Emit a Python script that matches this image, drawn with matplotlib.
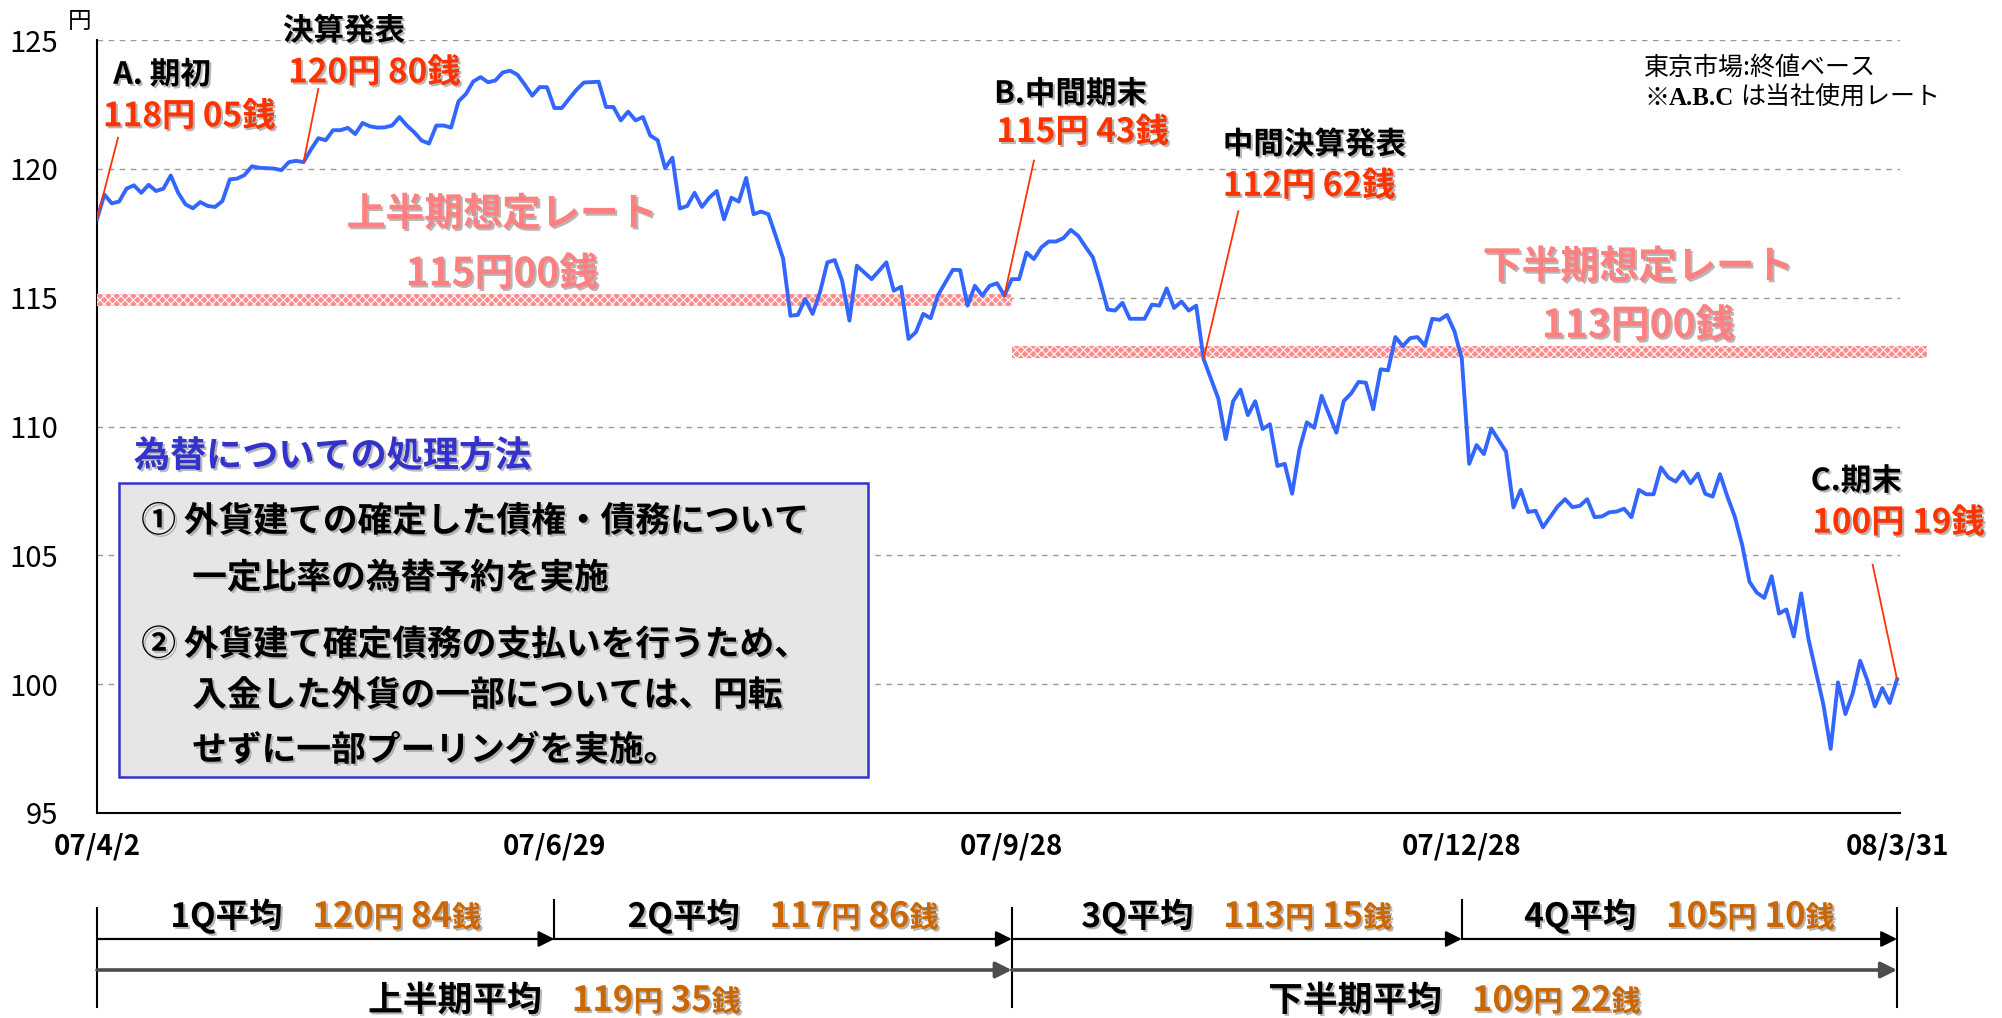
import matplotlib
matplotlib.use('Agg')
import matplotlib.pyplot as plt
import matplotlib.patheffects as pe
from matplotlib.patches import Rectangle
from matplotlib.transforms import IdentityTransform, blended_transform_factory

plt.rcParams['font.family'] = ['Noto Sans CJK JP', 'DejaVu Sans']
plt.rcParams['hatch.linewidth'] = 0.8

# trading days counted from 07/4/2, USD/JPY close (Tokyo)
days = [0, 1, 2, 3, 4, 5, 6, 7, 8, 9, 10, 11, 12, 13, 14, 15, 16, 17, 18, 19,
        20, 21, 22, 24, 25, 26, 27, 28, 29, 30, 31, 32, 33, 34, 35, 36, 37, 38, 39,
        40, 41, 42, 43, 44, 45, 46, 47, 48, 49, 50, 51, 52, 53, 54, 55, 56, 57, 58,
        59, 60, 61,
        62, 63, 64, 65, 66, 68, 69, 70, 71, 72, 73, 74, 75, 76, 77, 78, 79, 80, 81,
        82, 83, 84, 85, 86, 87, 88, 89, 90, 91, 92, 93, 94, 95, 96, 97, 98, 99, 100,
        101, 102, 103, 105, 106, 107, 108, 109, 110, 111, 112, 113, 114, 115, 116,
        117, 118, 119, 120, 121, 122, 123,
        124, 125, 126, 127, 128, 129, 130, 131, 132, 133, 134, 135, 136, 137, 138,
        139, 140, 142, 143, 144, 145, 146, 147, 148, 149, 150, 152, 153, 154, 155,
        156, 157, 158, 159, 160, 161, 162, 163, 164, 165, 166, 168, 169, 170, 171,
        172, 173, 174, 175, 176, 177, 178, 179, 180, 181, 182, 183, 184,
        185, 186, 187, 188, 189, 191, 192, 193, 194, 195, 196, 198, 199, 200, 201,
        202, 203, 204, 205, 206, 207, 208, 209, 210, 211, 212, 213, 214, 215, 216,
        217, 218, 219, 220, 221, 222, 223, 224, 225, 226, 227, 228, 229, 230, 231,
        232, 233, 234, 235, 236, 237, 238, 239, 240, 241, 242, 243, 244]
rates = [118.05, 119.00, 118.66, 118.73, 119.23, 119.36, 119.07, 119.38, 119.14, 119.23,
         119.74, 119.07, 118.62, 118.47, 118.71, 118.56, 118.52, 118.75, 119.59, 119.62,
         119.76, 120.10, 120.04, 120.01, 119.95, 120.26, 120.31, 120.26, 120.75, 121.19,
         121.11, 121.50, 121.50, 121.59, 121.35, 121.78, 121.65, 121.60, 121.61,
         121.68, 122.01, 121.68, 121.42, 121.10, 120.98, 121.68, 121.68, 121.60, 122.62,
         122.90, 123.39, 123.56, 123.36, 123.43, 123.74, 123.81, 123.65, 123.26,
         122.84, 123.17, 123.17,
         122.36, 122.36, 122.72, 123.07, 123.35, 123.38, 122.40, 122.40, 121.88, 122.22,
         121.88, 122.01, 121.29, 121.11, 120.03, 120.43, 118.46, 118.56, 119.07,
         118.52, 118.88, 119.14, 118.04, 118.88, 118.73, 119.65, 118.24, 118.34, 118.24,
         117.40, 116.52, 114.30, 114.33, 114.95, 114.37, 115.21, 116.37, 116.46,
         115.66, 114.11, 116.24, 115.72, 116.04, 116.37, 115.27, 115.42, 113.40, 113.66,
         114.37, 114.20, 115.10, 115.59, 116.08,
         116.07, 114.69, 115.46, 115.08, 115.46, 115.56, 115.08,
         115.72, 115.72, 116.75, 116.50, 116.95, 117.18, 117.18, 117.31, 117.63, 117.40,
         116.97, 116.56, 115.59, 114.54, 114.50,
         114.80, 114.18, 114.18, 114.73, 114.69, 115.36, 114.60, 114.85, 114.50, 114.69,
         112.62, 111.08, 109.51, 110.98, 111.43,
         110.44, 110.98, 109.90, 110.09, 108.47, 108.55, 107.39, 109.12, 110.16, 109.95,
         111.19, 109.76, 110.99, 111.28, 111.73,
         111.70, 110.67, 112.22, 112.18, 113.47, 113.12, 113.43, 113.47, 113.14, 114.18,
         114.14, 114.33, 113.70,
         112.63, 108.55, 109.28, 108.93, 109.92, 109.02, 106.86, 107.54, 106.68, 106.73,
         106.09, 106.90, 107.18, 106.87, 106.92,
         107.18, 106.48, 106.51, 106.67, 106.70, 106.81, 106.48, 107.54, 107.37, 107.37,
         108.41, 108.02, 107.86, 108.25, 107.80,
         108.17, 107.39, 107.28, 108.15, 107.28, 106.51, 105.41, 103.97, 103.55, 103.35,
         104.19, 102.74, 102.90, 101.85, 103.52,
         101.74, 100.49, 99.23, 97.49, 100.07, 98.84, 99.65, 100.91, 100.13, 99.14,
         99.85, 99.27, 100.19]

tick_days = [0, 62, 124, 185, 244]
tick_labels = ['07/4/2', '07/6/29', '07/9/28', '07/12/28', '08/3/31']
yticks = [95, 100, 105, 110, 115, 120, 125]

plan_rates = [115.00, 113.00]
plan_spans = [(0, 124), (124, 248)]
plan_titles = ['上半期想定レート', '下半期想定レート']
plan_labels = ['115円00銭', '113円00銭']

q_bounds = [0, 62, 124, 185, 244]
q_names = ['1Q平均', '2Q平均', '3Q平均', '4Q平均']
q_avgs = ['120円 84銭', '117円 86銭', '113円 15銭', '105円 10銭']
h_bounds = [0, 124, 244]
h_names = ['上半期平均', '下半期平均']
h_avgs = ['119円 35銭', '109円 22銭']

box_title = '為替についての処理方法'
box_lines = ['① 外貨建ての確定した債権・債務について', '一定比率の為替予約を実施',
             '② 外貨建て確定債務の支払いを行うため、', '入金した外貨の一部については、円転',
             'せずに一部プーリングを実施。']

BLUE = '#3366FF'
RED = '#FF3300'
PINK = '#FF8080'
ORANGE = '#CC6600'
NAVY = '#3333CC'
SHADOW = [pe.withSimplePatchShadow(offset=(1.5, -1.5), shadow_rgbFace='#999999', alpha=0.7)]

W, H = 2002, 1018
fig = plt.figure(figsize=(W / 100, H / 100), dpi=100)
ax = fig.add_axes([97 / W, 1 - 813 / H, (1900 - 97) / W, (813 - 40) / H])

ax.plot(days, rates, color=BLUE, lw=2.8, zorder=4)
ax.set_xlim(0, 244.4)
ax.set_ylim(95, 125)
ax.set_yticks(yticks)
ax.set_yticklabels([str(v) for v in yticks], fontsize=21)
ax.set_xticks(tick_days)
ax.set_xticklabels(tick_labels, fontsize=20, fontweight='bold')
ax.tick_params(axis='y', length=0, pad=28)
ax.tick_params(axis='x', length=0, pad=14)
ax.yaxis.grid(True, linestyle=(0, (4, 4)), color='#999999', lw=1)
ax.set_axisbelow(True)
for s in ['top', 'right']:
    ax.spines[s].set_visible(False)
for s in ['left', 'bottom']:
    ax.spines[s].set_linewidth(1.5)
fig.text(80 / W, 1 - 22 / H, '円', ha='center', va='center', fontsize=17)

# planned rate bands
for (x0, x1), rate, title, lab, tx, ty in zip(plan_spans, plan_rates, plan_titles, plan_labels,
                                             [54.9, 208.9], [(118.24, 115.92), (116.19, 113.91)]):
    ax.add_patch(Rectangle((x0, rate - 0.33), x1 - x0, 0.47, facecolor='#FF8C8C',
                           edgecolor='none', zorder=3, clip_on=False))
    ax.add_patch(Rectangle((x0, rate - 0.33), x1 - x0, 0.47, facecolor='none',
                           edgecolor='white', hatch='xxxx', lw=0, zorder=3, clip_on=False))
    ax.text(tx, ty[0], title, ha='center', va='center', color=PINK, fontsize=28,
            fontweight='bold', path_effects=SHADOW, zorder=5)
    ax.text(tx, ty[1], lab, ha='center', va='center', color=PINK, fontsize=28,
            fontweight='bold', path_effects=SHADOW, zorder=5)

# event annotations: title pos, value pos, line start, point
events = [
    ('A. 期初', (2.2, 123.65), '118円 05銭', (0.8, 122.02), (2.85, 121.21), 0),
    ('決算発表', (25.2, 125.35), '120円 80銭', (25.9, 123.72), (30.0, 123.1), 28),
    ('B.中間期末', (121.6, 122.91), '115円 43銭', (121.9, 121.41), (127.0, 120.32), 123),
    ('中間決算発表', (152.6, 120.94), '112円 62銭', (152.6, 119.32), (154.7, 118.35), 150),
    ('C.期末', (232.3, 107.88), '100円 19銭', (232.5, 106.25), (240.7, 104.63), 244),
]
for title, tpos, val, vpos, lstart, d in events:
    ax.text(*tpos, title, ha='left', va='center', fontsize=22, fontweight='bold',
            path_effects=SHADOW, zorder=6, clip_on=False)
    ax.text(*vpos, val, ha='left', va='center', fontsize=24, fontweight='bold', color=RED,
            path_effects=SHADOW, zorder=6, clip_on=False)
    y = rates[days.index(d)]
    ax.plot([lstart[0], d], [lstart[1], y], color=RED, lw=1.3, zorder=5)

ax.text(209.7, 123.92, '東京市場:終値ベース', ha='left', va='center', fontsize=18)


def rich_text(parts, x, y, ha='left'):
    r = fig.canvas.get_renderer()
    arts, widths = [], []
    for s, style, gap in parts:
        t = fig.text(0, 0, s, transform=IdentityTransform(), ha='left', va='baseline', **style)
        arts.append(t)
        widths.append(t.get_window_extent(r).width)
    total = sum(w + p[2] for w, p in zip(widths, parts))
    if ha == 'center':
        x -= total / 2
    for t, w, p in zip(arts, widths, parts):
        x += p[2]
        t.set_position((x, y))
        x += w


px0, _ = ax.transData.transform((209.7, 0))
rich_text([('※', dict(fontsize=18), 0),
           ('A.B.C', dict(fontsize=18, fontweight='bold', family='Liberation Serif'), 0),
           ('は当社使用レート', dict(fontsize=18), 6)], px0, H - 105)

# treatment box
ax.text(5.0, 108.84, box_title, ha='left', va='center', color=NAVY, fontsize=26,
        fontweight='bold', path_effects=SHADOW, zorder=6)
ax.add_patch(Rectangle((3.0, 96.4), 101.5, 11.4, facecolor='#E6E6E6', edgecolor=NAVY,
                       lw=1.8, zorder=5))
for line, lx, ly in zip(box_lines, [6.0, 12.9, 6.0, 12.9, 12.9],
                        [106.33, 104.13, 101.54, 99.57, 97.44]):
    ax.text(lx, ly, line, ha='left', va='center', fontsize=25, fontweight='bold',
            path_effects=SHADOW, zorder=6)

# period averages below the axis
bt = blended_transform_factory(ax.transData, fig.transFigure)


def fy(py):
    return 1 - py / H


def yen_parts(s, big, small, gap):
    yen, sen = s.replace('銭', '').split('円')
    c = dict(color=ORANGE, fontweight='bold', path_effects=SHADOW)
    return [(yen, dict(fontsize=big, **c), gap), ('円', dict(fontsize=small, **c), 0),
            (sen.strip(), dict(fontsize=big, **c), 8), ('銭', dict(fontsize=small, **c), 0)]


for a, b, name, avg in zip(q_bounds[:-1], q_bounds[1:], q_names, q_avgs):
    ax.annotate('', xy=(b, fy(939)), xytext=(a, fy(939)), xycoords=bt, textcoords=bt,
                arrowprops=dict(arrowstyle='-|>', color='black', lw=1.6, mutation_scale=24,
                                shrinkA=0, shrinkB=0), annotation_clip=False)
    xc = bt.transform(((a + b) / 2, 0))[0]
    parts = [(name, dict(fontsize=24, fontweight='bold', path_effects=SHADOW), 0)]
    rich_text(parts + yen_parts(avg, 25, 21, 30), xc, H - 927, ha='center')

for a, b, name, avg in zip(h_bounds[:-1], h_bounds[1:], h_names, h_avgs):
    ax.annotate('', xy=(b, fy(970)), xytext=(a, fy(970)), xycoords=bt, textcoords=bt,
                arrowprops=dict(arrowstyle='-|>', color='#4D4D4D', lw=2.6, mutation_scale=24,
                                shrinkA=0, shrinkB=0), annotation_clip=False)
    xc = bt.transform(((a + b) / 2, 0))[0]
    parts = [(name, dict(fontsize=25, fontweight='bold', path_effects=SHADOW), 0)]
    rich_text(parts + yen_parts(avg, 25, 21, 30), xc, H - 1011, ha='center')

for d in h_bounds:
    ax.plot([d, d], [fy(908), fy(1007)], color='black', lw=1.5, transform=bt, clip_on=False)
for d in q_bounds[1::2]:
    ax.plot([d, d], [fy(900), fy(939)], color='black', lw=1.5, transform=bt, clip_on=False)

fig.savefig('out.png', dpi=100)
